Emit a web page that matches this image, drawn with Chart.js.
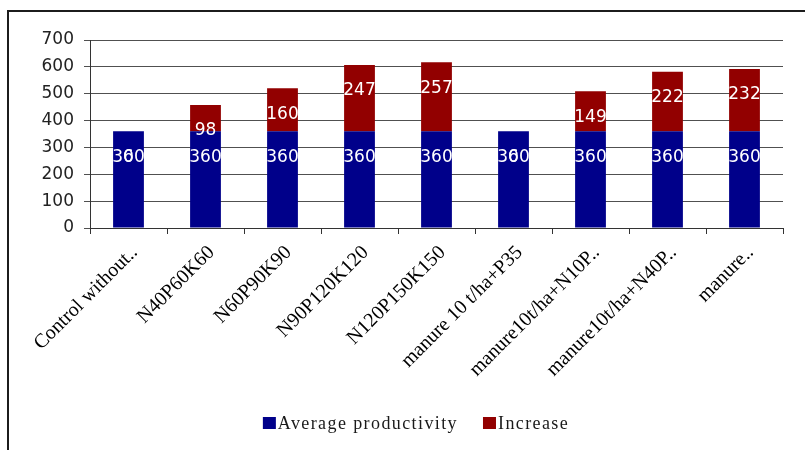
<!DOCTYPE html>
<html>
<head>
<meta charset="utf-8">
<script src="https://cdn.jsdelivr.net/npm/chart.js@4/dist/chart.umd.min.js"></script>
<style>
  html, body { margin: 0; padding: 0; background: #ffffff; }
  #wrap { position: relative; width: 805px; height: 450px; overflow: hidden; }
  #c { position: absolute; left: 0; top: 0; }
  #frame {
    position: absolute; left: 7px; top: 10px; right: -4px; bottom: -4px;
    border-left: 2px solid #1c1c1c; border-top: 2px solid #1c1c1c;
    pointer-events: none;
  }
</style>
</head>
<body>
<div id="wrap">
  <canvas id="c" width="805" height="450"></canvas>
  <div id="frame"></div>
</div>
<script>
// Fertiliser variants along the x axis
const categories = [
  'Control without..',
  'N40P60K60',
  'N60P90K90',
  'N90P120K120',
  'N120P150K150',
  'manure 10 t/ha+P35',
  'manure10t/ha+N10P..',
  'manure10t/ha+N40P..',
  'manure..'
];

// Stacked series: base yield and the gain on top of it
const averageProductivity = [360, 360, 360, 360, 360, 360, 360, 360, 360];
const increase = [0, 98, 160, 247, 257, 0, 149, 222, 232];

// Value axis ticks
const yTicks = [0, 100, 200, 300, 400, 500, 600, 700];

const seriesNames = ['Average productivity', 'Increase'];
const seriesColors = ['#00008a', '#920000'];

// White value labels inside each segment, placed just below the segment top
const barValueLabels = {
  id: 'barValueLabels',
  afterDatasetsDraw(chart) {
    const ctx = chart.ctx;
    ctx.save();
    ctx.font = '17px "DejaVu Sans"';
    ctx.fillStyle = '#ffffff';
    ctx.textAlign = 'center';
    ctx.textBaseline = 'middle';
    chart.data.datasets.forEach((ds, i) => {
      chart.getDatasetMeta(i).data.forEach((bar, j) => {
        ctx.fillText(String(ds.data[j]), bar.x, bar.y + 26);
      });
    });
    ctx.restore();
  }
};

// Legend row under the axis labels
const bottomLegend = {
  id: 'bottomLegend',
  afterDraw(chart) {
    const ctx = chart.ctx;
    ctx.save();
    ctx.font = '18px "Liberation Serif"';
    ctx.letterSpacing = '1.4px';
    ctx.textBaseline = 'alphabetic';
    const box = 13, boxH = 12, boxGap = 2, itemGap = 25;
    const widths = seriesNames.map(n => ctx.measureText(n).width);
    const total = widths.reduce((a, w) => a + box + boxGap + w, 0) + itemGap * (seriesNames.length - 1);
    let x = 416 - total / 2;
    const baseline = 429;
    seriesNames.forEach((name, i) => {
      ctx.fillStyle = seriesColors[i];
      ctx.fillRect(x, baseline - boxH, box, boxH);
      x += box + boxGap;
      ctx.fillStyle = '#1a1a1a';
      ctx.fillText(name, x, baseline);
      x += widths[i] + itemGap;
    });
    ctx.restore();
  }
};

new Chart(document.getElementById('c'), {
  type: 'bar',
  data: {
    labels: categories,
    datasets: [
      { label: seriesNames[0], data: averageProductivity, backgroundColor: seriesColors[0] },
      { label: seriesNames[1], data: increase, backgroundColor: seriesColors[1] }
    ]
  },
  options: {
    responsive: false,
    animation: false,
    devicePixelRatio: 1,
    layout: { padding: { left: 0, top: 40, right: 22, bottom: 0 } },
    datasets: { bar: { barPercentage: 0.4, categoryPercentage: 1.0 } },
    plugins: {
      legend: { display: false },
      tooltip: { enabled: false }
    },
    scales: {
      x: {
        stacked: true,
        grid: { display: true, drawOnChartArea: false, drawTicks: true, tickLength: 6, color: '#333333', offset: true },
        border: { display: true, color: '#333333', width: 1 },
        ticks: {
          autoSkip: false, maxRotation: 45, minRotation: 45, padding: 7, labelOffset: 6,
          color: '#000000',
          font: { family: 'Liberation Serif', size: 20 }
        },
        afterFit(scale) { scale.height = 222; }
      },
      y: {
        stacked: true,
        min: yTicks[0],
        max: yTicks[yTicks.length - 1],
        afterBuildTicks(scale) { scale.ticks = yTicks.map(v => ({ value: v })); },
        grid: { color: '#505050', lineWidth: 1, drawTicks: true, tickLength: 6 },
        border: { display: true, color: '#333333', width: 1 },
        ticks: {
          padding: 10,
          color: '#222222',
          font: { family: 'DejaVu Sans', size: 17 }
        },
        afterFit(scale) { scale.width = 90; }
      }
    }
  },
  plugins: [barValueLabels, bottomLegend]
});
</script>
</body>
</html>
